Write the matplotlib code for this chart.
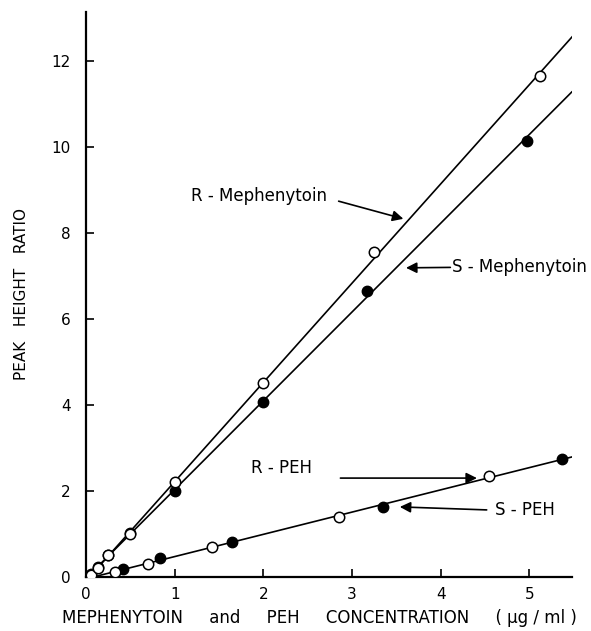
import matplotlib
matplotlib.use("Agg")
import matplotlib.pyplot as plt
import numpy as np

# R- and S-mephenytoin (open = R, filled = S)
r_meph_x = [0.06, 0.13, 0.25, 0.5, 1.0, 2.0, 3.25, 5.12]
r_meph_y = [0.05, 0.22, 0.5, 1.0, 2.2, 4.5, 7.55, 11.65]
s_meph_x = [0.06, 0.14, 0.25, 0.5, 1.0, 2.0, 3.17, 4.97]
s_meph_y = [0.06, 0.24, 0.5, 1.02, 2.0, 4.08, 6.65, 10.15]

# R- and S-PEH
r_peh_x = [0.33, 0.7, 1.42, 2.85, 4.55]
r_peh_y = [0.12, 0.3, 0.7, 1.4, 2.35]
s_peh_x = [0.42, 0.84, 1.65, 3.35, 5.37]
s_peh_y = [0.18, 0.44, 0.82, 1.62, 2.75]

# how far each fitted line runs
line_end = {"r_meph": 5.51, "s_meph": 5.48, "peh": 5.48}

fig = plt.figure(figsize=(5.91, 6.31), dpi=100)
ax = fig.add_axes([0.1455, 0.0856, 0.822, 0.8954])

def fit_line(xs, ys, xend):
	k, b = np.polyfit(xs, ys, 1)
	xx = np.array([0.0, xend])
	return xx, k * xx + b

xx, yy = fit_line(r_meph_x, r_meph_y, line_end["r_meph"])
ax.plot(xx, yy, color="black", lw=1.2, zorder=2)
xx, yy = fit_line(s_meph_x, s_meph_y, line_end["s_meph"])
ax.plot(xx, yy, color="black", lw=1.2, zorder=2)
xx, yy = fit_line(r_peh_x + s_peh_x, r_peh_y + s_peh_y, line_end["peh"])
ax.plot(xx, yy, color="black", lw=1.2, zorder=2)

ms = 7.5
ax.plot(s_meph_x, s_meph_y, "o", ms=ms, mfc="black", mec="black", zorder=3)
ax.plot(r_meph_x, r_meph_y, "o", ms=ms, mfc="white", mec="black", mew=1.1, zorder=4)
ax.plot(s_peh_x, s_peh_y, "o", ms=ms, mfc="black", mec="black", zorder=3)
ax.plot(r_peh_x, r_peh_y, "o", ms=ms, mfc="white", mec="black", mew=1.1, zorder=4)

arrow = dict(arrowstyle="-|>", color="black", lw=1.2, mutation_scale=16, shrinkA=0, shrinkB=0)
fs = 12
ax.annotate("", xy=(3.58, 8.33), xytext=(2.85, 8.74), arrowprops=arrow)
ax.text(2.72, 8.86, "R - Mephenytoin", ha="right", va="center", fontsize=fs)
ax.annotate("", xy=(3.61, 7.19), xytext=(4.11, 7.2), arrowprops=arrow)
ax.text(4.13, 7.2, "S - Mephenytoin", ha="left", va="center", fontsize=fs)
ax.annotate("", xy=(4.41, 2.3), xytext=(2.87, 2.3), arrowprops=arrow)
ax.text(2.2, 2.53, "R - PEH", ha="center", va="center", fontsize=fs)
ax.annotate("", xy=(3.54, 1.63), xytext=(4.52, 1.56), arrowprops=arrow)
ax.text(4.61, 1.56, "S - PEH", ha="left", va="center", fontsize=fs)

ax.set_xlim(0, 5.48)
ax.set_ylim(0, 13.14)
ax.set_xticks([0, 1, 2, 3, 4, 5])
ax.set_yticks([0, 2, 4, 6, 8, 10, 12])
ax.tick_params(direction="in", length=6, width=1.2, labelsize=11)
ax.tick_params(axis="y", pad=11)
ax.tick_params(axis="x", pad=7)
ax.spines["top"].set_visible(False)
ax.spines["right"].set_visible(False)
for s in ["left", "bottom"]:
	ax.spines[s].set_linewidth(1.6)

ax.set_xlabel("MEPHENYTOIN     and     PEH     CONCENTRATION     ( μg / ml )", fontsize=12)
ax.xaxis.set_label_coords(0.48, -0.056)
ax.set_ylabel("PEAK   HEIGHT   RATIO", fontsize=11, labelpad=16)

fig.savefig("out.png", dpi=100)
